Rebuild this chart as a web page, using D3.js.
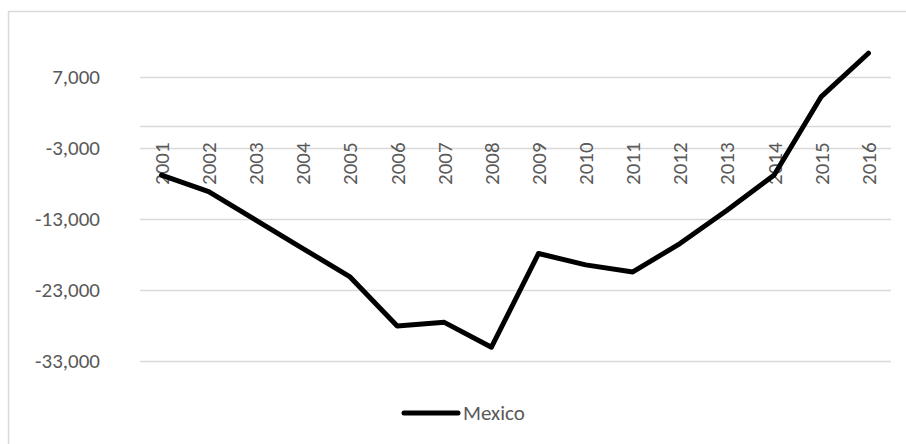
<!doctype html>

<meta charset="utf-8">
<title>Mexico</title>

<script src="https://d3js.org/d3.v7.min.js"></script>

<style>
body {
  margin: 0;
  background: #fff;
}

svg text {
  font-family: Calibri, Carlito, "Liberation Sans", sans-serif;
  font-size: 21px;
  fill: #595959;
}

.grid line {
  stroke: #d9d9d9;
  stroke-width: 1.3;
}
</style>

<svg id="chart" width="906" height="444"></svg>

<script>
var years = ["2001", "2002", "2003", "2004", "2005", "2006", "2007", "2008",
             "2009", "2010", "2011", "2012", "2013", "2014", "2015", "2016"];
var mexico = [-6850, -9200, -13200, -17200, -21200, -28100, -27600, -31100,
              -17900, -19500, -20500, -16500, -11800, -6850, 4200, 10300];
var yTicks = [7000, -3000, -13000, -23000, -33000];

var svg = d3.select("#chart");

// chart border (only top and left are inside the picture)
svg.append("rect")
  .attr("x", 8.5).attr("y", 11.5)
  .attr("width", 920).attr("height", 460)
  .attr("fill", "#fff")
  .attr("stroke", "#d9d9d9")
  .attr("stroke-width", 1.5);

var x = d3.scaleBand().domain(years).range([138, 892]);
var y = d3.scaleLinear().domain([-33000, 12000]).range([360.7, 41.2]);

// excel style: plain hyphen, not the unicode minus
var fmt = function(d) { return d3.format(",")(d).replace("\u2212", "-"); };

// horizontal gridlines
var grid = svg.append("g").attr("class", "grid");
grid.selectAll("line")
  .data(yTicks.concat([0]))
  .enter().append("line")
  .attr("x1", 140).attr("x2", 891)
  .attr("y1", function(d) { return Math.round(y(d)) + 0.5; })
  .attr("y2", function(d) { return Math.round(y(d)) + 0.5; });

// value axis labels
var yAxis = d3.axisLeft(y).tickValues(yTicks).tickFormat(fmt).tickSize(0).tickPadding(0);
var yg = svg.append("g").attr("transform", "translate(100,0)").call(yAxis);
yg.select(".domain").remove();
yg.selectAll("text")
  .attr("font-size", null)
  .attr("font-family", null)
  .attr("fill", "#595959");

// category labels, rotated, hanging below the 0 line
svg.append("g").selectAll("text")
  .data(years)
  .enter().append("text")
  .attr("transform", function(d) {
    return "translate(" + (x(d) + x.bandwidth() / 2) + "," + (y(0) + 16) + ") rotate(-90)";
  })
  .attr("text-anchor", "end")
  .attr("dy", "0.35em")
  .text(function(d) { return d; });

// series line
var line = d3.line()
  .x(function(d, i) { return x(years[i]) + x.bandwidth() / 2; })
  .y(function(d) { return y(d); });

svg.append("path")
  .datum(mexico)
  .attr("d", line)
  .attr("fill", "none")
  .attr("stroke", "#000")
  .attr("stroke-width", 5)
  .attr("stroke-linejoin", "round")
  .attr("stroke-linecap", "round");

// legend
var legend = svg.append("g").attr("transform", "translate(0,413)");
legend.append("line")
  .attr("x1", 404).attr("x2", 458)
  .attr("stroke", "#000")
  .attr("stroke-width", 5)
  .attr("stroke-linecap", "round");
legend.append("text")
  .attr("x", 463)
  .attr("dy", "0.35em")
  .text("Mexico");
</script>
